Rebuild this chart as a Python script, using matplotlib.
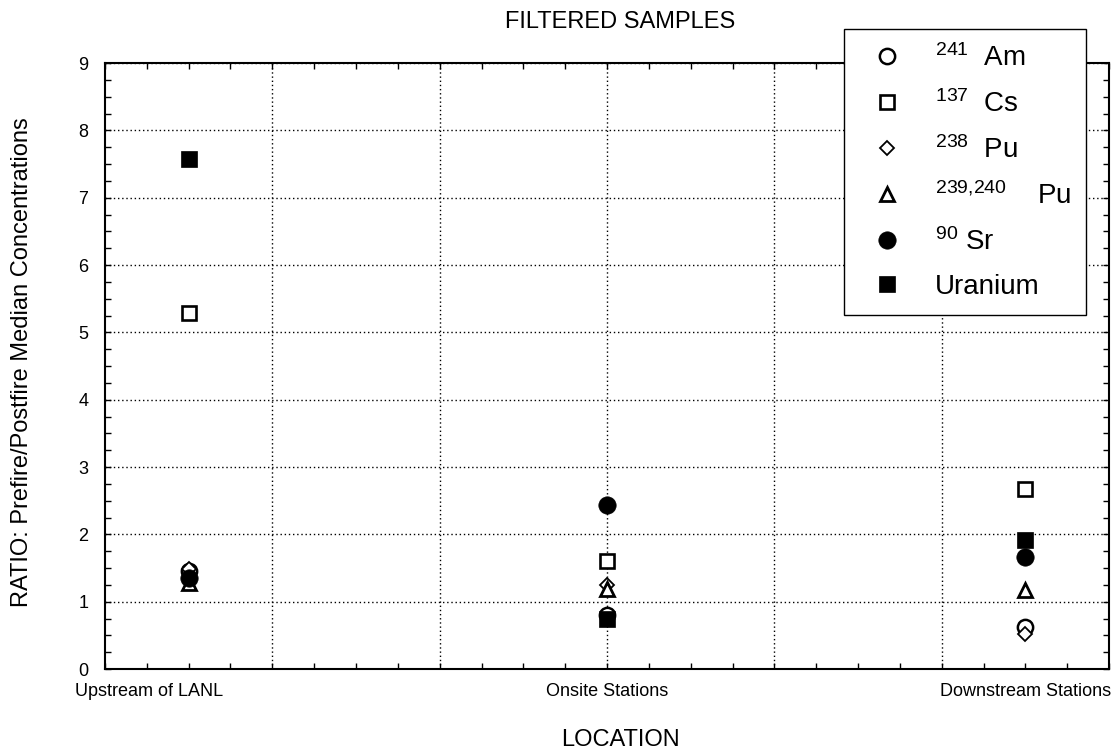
import matplotlib
matplotlib.use("Agg")
import matplotlib.pyplot as plt
import matplotlib.transforms as mtransforms
import numpy as np
from matplotlib.ticker import MultipleLocator

plt.rcParams['font.family'] = ['Liberation Sans', 'DejaVu Sans']
plt.rcParams['mathtext.fontset'] = 'custom'
plt.rcParams['mathtext.rm'] = 'Liberation Sans'
plt.rcParams['mathtext.it'] = 'Liberation Sans:italic'
plt.rcParams['mathtext.bf'] = 'Liberation Sans:bold'

# ---- data ----
locations = ["Upstream of LANL", "Onsite Stations", "Downstream Stations"]
am241 = [1.45, 0.80, 0.62]
cs137 = [5.28, 1.61, 2.67]
pu238 = [1.48, 1.25, 0.52]
pu239_240 = [1.28, 1.19, 1.17]
sr90 = [1.35, 2.43, 1.66]
uranium = [7.58, 0.75, 1.92]

legend_labels = [r"$\mathregular{^{241}}$  Am",
                 r"$\mathregular{^{137}}$  Cs",
                 r"$\mathregular{^{238}}$  Pu",
                 r"$\mathregular{^{239{,}240}}$    Pu",
                 r"$\mathregular{^{90}}$ Sr",
                 "Uranium"]

x_grid = [0.2, 0.6, 1.0, 1.4, 1.8]

fig = plt.figure(figsize=(11.11, 7.52), dpi=100)
ax = fig.add_axes([105/1111, 1-669/752, (1109-105)/1111, (669-63)/752])

xpos = np.arange(len(locations))

styles = [
    dict(marker='o', ms=11, mfc='white', mec='black', mew=1.8),
    dict(marker='s', ms=10.5, mfc='white', mec='black', mew=1.9),
    dict(marker='D', ms=7.5, mfc='white', mec='black', mew=1.3),
    dict(marker='^', ms=9.5, mfc='white', mec='black', mew=2.0),
    dict(marker='o', ms=12.5, mfc='black', mec='black', mew=0.5),
    dict(marker='s', ms=12.0, mfc='black', mec='black', mew=0.5),
]
series = [am241, cs137, pu238, pu239_240, sr90, uranium]

handles = []
for vals, st, lab in zip(series, styles, legend_labels):
    h, = ax.plot(xpos, vals, linestyle='none', clip_on=False, zorder=3, label=lab, **st)
    handles.append(h)

ax.set_xlim(-0.2, 2.2)
ax.set_ylim(0, 9)

ax.set_xticks(xpos)
ax.set_xticklabels(locations, fontsize=13)
ax.xaxis.set_minor_locator(MultipleLocator(0.1))
ax.set_yticks(np.arange(0, 10, 1))
ax.yaxis.set_minor_locator(MultipleLocator(0.25))
ax.tick_params(axis='both', which='both', direction='in', top=True, right=True,
               length=4, width=1, color='black')
ax.tick_params(axis='y', labelsize=13, pad=12)
ax.tick_params(axis='x', pad=10)

# shift first category label to the left as in the original
lab0 = ax.get_xticklabels()[0]
lab0.set_transform(lab0.get_transform() +
                   mtransforms.ScaledTranslation(-40/100, 0, fig.dpi_scale_trans))

ax.grid(axis='y', which='major', linestyle=(0, (1, 2)), color='black', linewidth=1)
for gx in x_grid:
    ax.axvline(gx, linestyle=(0, (1, 2)), color='black', linewidth=1, zorder=1)

for sp in ax.spines.values():
    sp.set_linewidth(1.5)
    sp.set_color('black')

fig.text(620/1111, 1-22/752, "FILTERED SAMPLES", ha='center', va='center', fontsize=17)
fig.text(620/1111, 1-740/752, "LOCATION", ha='center', va='center', fontsize=17)
fig.text(22/1111, 1-362/752, "RATIO: Prefire/Postfire Median Concentrations",
         ha='center', va='center', rotation=90, fontsize=17)

leg = fig.legend(handles=handles, labels=legend_labels, loc='upper left',
                 bbox_to_anchor=(844/1111, 1-29/752), borderaxespad=0,
                 fontsize=20, frameon=True, fancybox=False, framealpha=1,
                 edgecolor='black', handlelength=2.0, handletextpad=0.72,
                 borderpad=0.55, labelspacing=0.65)
leg.get_frame().set_linewidth(1.0)
leg.set_zorder(10)

fig.savefig("out.png", dpi=100)
